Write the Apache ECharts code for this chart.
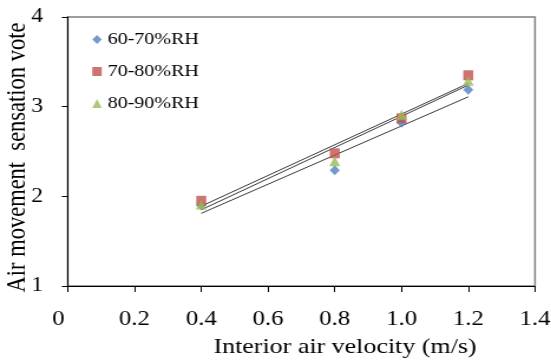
<!DOCTYPE html>
<html>
<head>
<meta charset="utf-8">
<script src="https://cdn.jsdelivr.net/npm/echarts@6/dist/echarts.min.js"></script>
<style>
html,body{margin:0;padding:0;background:#fff;overflow:hidden}
#wrap{width:551px;height:361px;overflow:hidden}
#c{width:467px;height:361px;transform:scaleX(1.18);transform-origin:0 0}
</style>
</head>
<body>
<div id="wrap"><div id="c"></div></div>
<script>
const velocities = [0.4, 0.8, 1.0, 1.2];
const rh6070 = [1.90, 2.29, 2.82, 3.19];
const rh7080 = [1.95, 2.48, 2.87, 3.35];
const rh8090 = [1.91, 2.39, 2.91, 3.29];
// trend line end points at x = 0.4 and 1.2
const trendX = [0.4, 1.2];
const trend6070 = [1.81, 3.11];
const trend7080 = [1.89, 3.26];
const trend8090 = [1.85, 3.24];
const seriesNames = ['60-70%RH', '70-80%RH', '80-90%RH'];
const xTickLabels = ['0', '0.2', '0.4', '0.6', '0.8', '1.0', '1.2', '1.4'];
const yTickLabels = ['1', '2', '3', '4'];

const SX = 1.18; // horizontal stretch of the reference's text
const pair = (xs, ys) => xs.map((x, i) => [x, ys[i]]);
const font = 'Liberation Serif';
const colors = ['#4F81BD', '#C0504D', '#9BBB59'];
const symbols = ['diamond', 'rect', 'triangle'];
const sizes = [[10 / SX, 10], [10 / SX, 10], [11 / SX, 10]];
const values = [rh6070, rh7080, rh8090];
const trends = [trend6070, trend7080, trend8090];

const series = [];
trends.forEach((t) => {
  series.push({
    type: 'line', data: pair(trendX, t), showSymbol: false, symbol: 'none',
    lineStyle: { color: '#3a3a3a', width: 1 }, silent: true, z: 1
  });
});
values.forEach((v, i) => {
  series.push({
    name: seriesNames[i], type: 'scatter', data: pair(velocities, v),
    symbol: symbols[i], symbolSize: sizes[i], itemStyle: { color: colors[i] }, z: 3
  });
});

const chart = echarts.init(document.getElementById('c'), null, { renderer: 'canvas' });
chart.setOption({
  animation: false,
  backgroundColor: '#fff',
  grid: { left: 57.4, right: 13.6, top: 17, bottom: 75, containLabel: false, outerBoundsMode: 'none',
          show: true, borderColor: '#7f7f7f', borderWidth: 1.5 },
  legend: {
    orient: 'vertical', left: 73.2, top: 26, itemGap: 15, itemWidth: 8, itemHeight: 9,
    data: seriesNames.map((n, i) => ({ name: n, icon: symbols[i] })),
    textStyle: { fontFamily: font, fontSize: 17, color: '#000' }
  },
  xAxis: {
    type: 'value', min: 0, max: 1.4, interval: 0.2,
    name: 'Interior air velocity (m/s)', nameLocation: 'middle', nameGap: 50, nameMoveOverlap: false,
    nameTextStyle: { fontFamily: font, fontSize: 22, color: '#000', padding: [0, 0, 0, 74] },
    axisLine: { lineStyle: { color: '#000', width: 1 } },
    axisTick: { show: true, length: 6, inside: false, lineStyle: { color: '#000' } },
    splitLine: { show: false },
    axisLabel: {
      fontFamily: font, fontSize: 21, color: '#000', margin: 23,
      formatter: (v) => { const s = xTickLabels[Math.round(v / 0.2)]; return v === 0 ? '{z|' + s + '}' : s; },
      rich: { z: { fontFamily: font, fontSize: 21, color: '#000', padding: [0, 16, 0, 0] } }
    }
  },
  yAxis: {
    type: 'value', min: 1, max: 4, interval: 1,
    name: 'Air movement  sensation vote', nameLocation: 'middle', nameGap: 31, nameMoveOverlap: false,
    nameTextStyle: { fontFamily: font, fontSize: 22.5, color: '#000', padding: [0, 12, 0, 0] },
    axisLine: { show: true, lineStyle: { color: '#000', width: 1 } },
    axisTick: { show: true, length: 5, inside: false, lineStyle: { color: '#000' } },
    splitLine: { show: false },
    axisLabel: {
      fontFamily: font, fontSize: 20, color: '#000', margin: 21,
      formatter: (v) => yTickLabels[Math.round(v) - 1]
    }
  },
  series: series
});
</script>
</body>
</html>
